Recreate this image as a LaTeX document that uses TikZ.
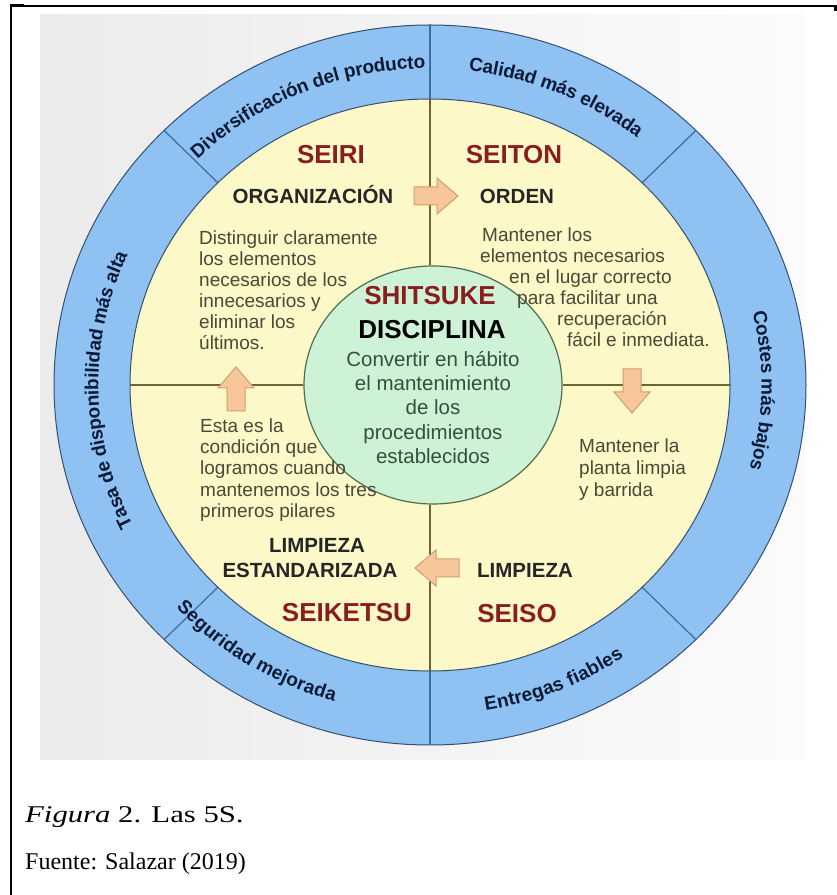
\documentclass[tikz,border=0pt]{standalone}
\usepackage{fontspec}
\setmainfont{Liberation Sans}
\newfontfamily\capfont{Liberation Serif}
\usetikzlibrary{shapes.geometric,decorations.text,calc}

\definecolor{ringblue}{HTML}{8FC1F2}
\definecolor{ringline}{HTML}{34506E}
\definecolor{divline}{HTML}{3C6C9C}
\definecolor{cream}{HTML}{FCF8C8}
\definecolor{mint}{HTML}{CDF2D5}
\definecolor{mintline}{HTML}{4F6E50}
\definecolor{quadline}{HTML}{6E6434}
\definecolor{peach}{HTML}{F7C69A}
\definecolor{peachline}{HTML}{D29E6C}
\definecolor{sred}{HTML}{8A1E1E}
\definecolor{bodytext}{HTML}{4A4838}
\definecolor{coretext}{HTML}{35503C}
\definecolor{ringtext}{HTML}{0C1B35}
\definecolor{panel}{HTML}{EBEBEB}

\newcommand\ringfnt{\fontsize{19}{22}\selectfont\bfseries\color{ringtext}}

\begin{document}
\begin{tikzpicture}[x=1pt,y=1pt,
  redtitle/.style={font=\fontsize{26}{30}\selectfont\bfseries, text=sred, inner sep=0, anchor=base},
  blacktitle/.style={font=\fontsize{20.5}{24}\selectfont\bfseries, text=black!85, inner sep=0, anchor=base},
  bodyline/.style={font=\fontsize{19}{21}\selectfont, text=bodytext, anchor=base west, inner sep=0},
  coreline/.style={font=\fontsize{20.5}{24}\selectfont, text=coretext, anchor=base, inner sep=0},
  quad/.style={draw=quadline, line width=1.5pt},
  blockarrow/.style={fill=peach, draw=peachline, line width=1pt, line join=miter},
  ringlabel/.style={decorate, decoration={text along path, text align=center, raise=-6.5pt, text={|\ringfnt|#1}}},
  caption/.style={font=\capfont\fontsize{24}{28}\selectfont, anchor=base west, inner sep=0},
  pics/blkarrow/.style={code={
    \draw[blockarrow] (0,0) -- (-21,18) -- (-21,9) -- (-44,9) -- (-44,-9) -- (-21,-9) -- (-21,-18) -- cycle;}},
]
\useasboundingbox (0,0) rectangle (837,895);
\fill[white] (0,0) rectangle (837,895);

% light panel behind the wheel
\shade[left color=panel, right color=gray!3] (40,135) rectangle (805,880);

% outer ring with its six segments
\coordinate (C) at (430,510);
\fill[ringblue, draw=ringline, line width=1pt] (C) ellipse [x radius=376pt, y radius=360pt];
\foreach \a in {45,90,135,225,270,315}
  \draw[divline, line width=1.2pt] ($(C)+(\a:300pt and 286pt)$) -- ($(C)+(\a:376pt and 360pt)$);

% yellow disc and green core
\node[ellipse, fill=cream, draw=ringline, line width=1pt, minimum width=600pt, minimum height=572pt, inner sep=0] (inner) at (C) {};
\node[ellipse, fill=mint, draw=mintline, line width=1.2pt, minimum width=258pt, minimum height=238pt, inner sep=0] (core) at (433,510) {};

% quadrant separators
\draw[quad] (inner.west) -- (core.west);
\draw[quad] (core.east) -- (inner.east);
\draw[quad] (inner.north) -- (inner.north |- core.north);
\draw[quad] (inner.south |- core.south) -- (inner.south);

% block arrows between the pillars
\pic at (458,699) {blkarrow};
\pic[rotate=-90] at (632,482) {blkarrow};
\pic[rotate=180] at (415,327) {blkarrow};
\pic[rotate=90] at (236,528) {blkarrow};

% ring labels
\path[ringlabel={Diversificación del producto}] (C) ++(160:338pt and 323pt) arc[start angle=160, end angle=66, x radius=338pt, y radius=323pt];
\path[ringlabel={Calidad más elevada}] (C) ++(110:338pt and 323pt) arc[start angle=110, end angle=24, x radius=338pt, y radius=323pt];
\path[ringlabel={Costes más bajos}] (C) ++(40:338pt and 323pt) arc[start angle=40, end angle=-42, x radius=338pt, y radius=323pt];
\path[ringlabel={Entregas fiables}] (C) ++(260:338pt and 323pt) arc[start angle=260, end angle=324, x radius=338pt, y radius=323pt];
\path[ringlabel={Seguridad mejorada}] (C) ++(210:338pt and 323pt) arc[start angle=210, end angle=266, x radius=338pt, y radius=323pt];
\path[ringlabel={Tasa de disponibilidad más alta}] (C) ++(240:338pt and 323pt) arc[start angle=240, end angle=122, x radius=338pt, y radius=323pt];

% SEIRI
\node[redtitle] (seiri) at (331,731) {SEIRI};
\node[blacktitle] (organiz) at (313,691) {ORGANIZACIÓN};
\node[bodyline] (tl1) at (199,650) {Distinguir claramente};
\node[bodyline] (tl2) at (199,629) {los elementos};
\node[bodyline] (tl3) at (199,608) {necesarios de los};
\node[bodyline] (tl4) at (199,587) {innecesarios y};
\node[bodyline] (tl5) at (199,566) {eliminar los};
\node[bodyline] (tl6) at (199,545) {últimos.};

% SEITON
\node[redtitle] (seiton) at (514,731) {SEITON};
\node[blacktitle] (orden) at (517,691) {ORDEN};
\node[bodyline] (tr1) at (482,653) {Mantener los};
\node[bodyline] (tr2) at (480,632) {elementos necesarios};
\node[bodyline] (tr3) at (509,611) {en el lugar correcto};
\node[bodyline] (tr4) at (517,590) {para facilitar una};
\node[bodyline] (tr5) at (557,569) {recuperación};
\node[bodyline] (tr6) at (567,548) {fácil e inmediata.};

% SEISO
\node[bodyline] (br1) at (579,442) {Mantener la};
\node[bodyline] (br2) at (579,420) {planta limpia};
\node[bodyline] (br3) at (579,398) {y barrida};
\node[blacktitle] (limpieza) at (525,317.5) {LIMPIEZA};
\node[redtitle] (seiso) at (517,272.5) {SEISO};

% SEIKETSU
\node[bodyline] (bl1) at (200,462) {Esta es la};
\node[bodyline] (bl2) at (200,441) {condición que};
\node[bodyline] (bl3) at (200,420) {logramos cuando};
\node[bodyline] (bl4) at (200,398) {mantenemos los tres};
\node[bodyline] (bl5) at (200,377) {primeros pilares};
\node[blacktitle] (limpest) at (317,342) {LIMPIEZA};
\node[blacktitle] (estand) at (310,317.5) {ESTANDARIZADA};
\node[redtitle] (seiketsu) at (347,273) {SEIKETSU};

% SHITSUKE
\node[redtitle] (shitsuke) at (430,590) {SHITSUKE};
\node[redtitle, text=black] (disciplina) at (432,556) {DISCIPLINA};
\node[coreline] (c1) at (433,528) {Convertir en hábito};
\node[coreline] (c2) at (433,504) {el mantenimiento};
\node[coreline] (c3) at (433,480) {de los};
\node[coreline] (c4) at (433,455) {procedimientos};
\node[coreline] (c5) at (433,431) {establecidos};

% caption
\node[caption] (fig) at (25,72) {\scalebox{1.28}[1]{\textit{Figura} 2. Las 5S.}};
\node[caption] (src) at (25,25) {Fuente: Salazar (2019)};

% cell borders
\draw[black, line width=2pt] (11,0) -- (11,889) -- (837,889);
\draw[black, line width=3pt] (835.5,889) -- (835.5,884);
\fill[black] (10,887.5) rectangle (24,890.5);
\end{tikzpicture}
\end{document}
